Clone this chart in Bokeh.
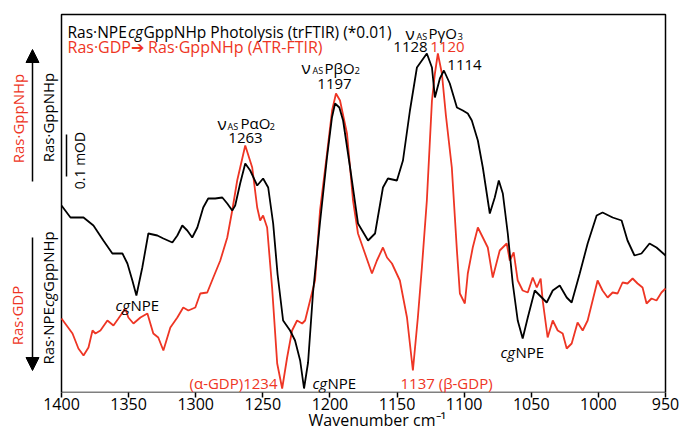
import math
from bokeh.plotting import figure
from bokeh.models import Range1d, Label, Arrow, NormalHead, FixedTicker, Title
from bokeh.embed import file_html
from bokeh.resources import INLINE

# ---------------- data ----------------
tick_values = [1400, 1350, 1300, 1250, 1200, 1150, 1100, 1050, 1000, 950]

# Ras·NPEcgGppNHp photolysis (trFTIR, *0.01) - black trace; heights in arbitrary units (42 = 0.1 mOD)
black_wn = [1400, 1393.3, 1383.6, 1376.2, 1368.8, 1362.1, 1354.6, 1350.9, 1347.2, 1344.2,
            1339.8, 1335.3, 1328.6, 1324.1, 1317.4, 1313.7, 1310.0, 1306.3, 1302.6, 1298.8,
            1294.4, 1290.7, 1285.5, 1280.2, 1276.5, 1272.8, 1270.6, 1266.9, 1263.1, 1259.4,
            1254.2, 1249.8, 1246.0, 1242.3, 1239.0, 1234.9, 1229.7, 1226.0, 1222.2, 1219.3,
            1216.3, 1212.6, 1207.4, 1202.2, 1198.5, 1196.2, 1193.0, 1190.2, 1185.0, 1179.1,
            1171.6, 1166.4, 1160.5, 1156.8, 1150.1, 1145.6, 1140.4, 1135.2, 1127.8, 1124.0,
            1121.8, 1118.1, 1115.1, 1110.7, 1105.4, 1101.0, 1097.3, 1094.3, 1089.8, 1086.1,
            1080.9, 1077.2, 1074.2, 1071.2, 1067.5, 1063.8, 1060.1, 1056.4, 1052.6, 1047.4,
            1042.2, 1038.5, 1034.0, 1028.8, 1023.6, 1019.9, 1013.9, 1008.0, 1001.3, 996.9,
            989.4, 982.7, 978.3, 973.1, 967.9, 961.9, 956.7, 950]
black_dA = [187, 175, 175, 167, 152, 139, 139, 129, 112, 97,
            125, 159, 157, 154, 150, 157, 167, 162, 155, 165,
            185, 194, 194, 195, 189, 182, 187, 209, 229, 222,
            207, 214, 205, 169, 118, 72, 62, 52, 32, 4,
            30, 100, 170, 235, 275, 289, 285, 272, 225, 169,
            152, 159, 205, 214, 212, 232, 282, 325, 339, 325,
            295, 314, 322, 309, 285, 282, 279, 272, 252, 225,
            179, 195, 212, 199, 159, 109, 72, 54, 75, 102,
            95, 90, 102, 107, 95, 90, 119, 149, 177, 180,
            175, 172, 152, 137, 139, 149, 145, 137]

# Ras·GDP -> Ras·GppNHp (ATR-FTIR) - red trace
red_wn = [1400, 1391.8, 1387.4, 1383.6, 1379.9, 1376.9, 1374.7, 1371.0, 1365.8, 1361.3,
          1357.6, 1352.4, 1350.2, 1346.4, 1341.2, 1336.0, 1331.6, 1327.9, 1324.1, 1318.9,
          1313.7, 1309.3, 1305.5, 1300.3, 1296.6, 1291.4, 1286.9, 1281.7, 1276.5, 1272.8,
          1269.1, 1263.1, 1257.9, 1254.2, 1252.0, 1249.8, 1246.8, 1243.1, 1239.3, 1235.6,
          1231.9, 1228.2, 1224.5, 1220.7, 1218.5, 1214.8, 1211.1, 1207.4, 1202.2, 1198.4,
          1195.5, 1192.5, 1187.3, 1182.8, 1179.1, 1173.9, 1168.7, 1165.0, 1160.5, 1157.5,
          1153.8, 1147.9, 1142.6, 1138.2, 1134.5, 1131.5, 1127.8, 1124.0, 1121.8, 1119.6,
          1116.6, 1113.6, 1109.2, 1105.4, 1103.2, 1099.5, 1097.3, 1093.6, 1089.8, 1086.1,
          1082.4, 1078.7, 1073.5, 1068.3, 1066.0, 1063.1, 1060.1, 1056.4, 1052.6, 1048.9,
          1045.9, 1043.0, 1041.5, 1037.8, 1034.0, 1030.3, 1026.6, 1023.6, 1019.9, 1015.5,
          1011.7, 1008.0, 1004.3, 1000.6, 996.9, 993.1, 989.4, 985.7, 982.0, 978.3,
          974.5, 970.8, 967.1, 964.1, 960.4, 956.7, 953.0, 950]
red_dA = [74, 59, 44, 37, 45, 62, 59, 62, 72, 67,
          74, 84, 75, 69, 75, 79, 59, 55, 42, 65,
          75, 85, 82, 85, 99, 100, 115, 132, 155, 182,
          212, 247, 225, 185, 172, 177, 165, 105, 29, 4,
          35, 62, 72, 69, 72, 92, 112, 182, 239, 282,
          299, 292, 259, 192, 159, 139, 119, 132, 145, 135,
          129, 112, 75, 22, 75, 125, 192, 292, 319, 339,
          319, 277, 225, 142, 99, 89, 119, 145, 165, 155,
          145, 115, 142, 149, 132, 140, 112, 102, 100, 115,
          105, 114, 92, 55, 72, 62, 59, 44, 49, 70,
          62, 72, 92, 112, 102, 95, 100, 99, 110, 109,
          114, 109, 105, 89, 94, 92, 100, 104]

# ---------------- styling ----------------
FONT = "Open Sans"
RED = "#EE3524"
BLACK = "#000000"

# plot box in window pixels: left 61, right 665, top 14, bottom 392
def X(px):
    return 1400 - (px - 61) * 450 / 604

def Y(py):
    return 392 - py

p = figure(width=679, height=431, output_backend="svg", toolbar_location=None,
           x_range=Range1d(X(0), X(679)), y_range=Range1d(Y(392), Y(0)),
           min_border_left=0, min_border_right=0, min_border_top=0, min_border_bottom=39)
p.yaxis.visible = False
p.grid.visible = False
p.outline_line_color = None
p.background_fill_color = "white"
p.border_fill_color = "white"

ax = p.xaxis[0]
ax.ticker = FixedTicker(ticks=tick_values)
ax.axis_line_color = None
ax.major_tick_line_width = 1.5
ax.major_tick_out = 5
ax.major_tick_in = 0
ax.minor_tick_out = 0
ax.minor_tick_in = 0
ax.major_label_standoff = 0
ax.major_label_text_font = FONT
ax.major_label_text_font_size = "16px"
ax.major_label_text_color = BLACK

xt = Title(text="Wavenumber cm\u207b\u00b9", align="left", offset=308, standoff=-12,
           text_font=FONT, text_font_size="16px", text_font_style="normal",
           text_color=BLACK)
p.add_layout(xt, "below")

# plot box
p.quad(left=[tick_values[0]], right=[tick_values[-1]], bottom=[0], top=[Y(14)],
       fill_color=None, line_color=BLACK, line_width=1.5)

# traces
p.line(red_wn, red_dA, line_color=RED, line_width=1.8)
p.line(black_wn, black_dA, line_color=BLACK, line_width=1.8)

def lab(px, py, text, color=BLACK, size="15px", align="left", baseline="middle",
        style="normal", angle=0.0):
    p.add_layout(Label(x=X(px), y=Y(py), text=text, text_color=color, text_font=FONT,
                       text_font_size=size, text_align=align, text_baseline=baseline,
                       text_font_style=style, angle=angle))

# scale bar 0.1 mOD (= 42 units)
p.segment(x0=[X(66)], y0=[Y(176)], x1=[X(66)], y1=[Y(134)], line_color=BLACK, line_width=1.5)
lab(79, 160, "0.1 mOD", size="14px", align="center", angle=math.pi / 2)

# legend-like headers
lab(67, 31.5, "Ras·NPE", size="15.5px", baseline="alphabetic")
lab(127.5, 31.5, "cg", size="15.5px", baseline="alphabetic", style="italic")
lab(143, 31.5, "GppNHp Photolysis (trFTIR) (*0.01)", size="15.5px", baseline="alphabetic")
lab(67, 46.5, "Ras·GDP\u2794 Ras·GppNHp (ATR-FTIR)", color=RED, size="16px", baseline="alphabetic")

# band assignments
def nu_label(x_nu, x_as, x_main, x_sub, base, main, sub):
    lab(x_nu, base, "ν", size="17px", baseline="alphabetic")
    lab(x_as, base + 3, "AS", size="9px", baseline="alphabetic")
    lab(x_main, base, main, size="15px", baseline="alphabetic")
    lab(x_sub, base + 3, sub, size="9.5px", baseline="alphabetic")

nu_label(217, 227, 240, 269, 122.5, "PαO", "2")
lab(245, 137, "1263", align="center")
nu_label(301, 312, 324, 354, 67, "PβO", "2")
lab(334, 83, "1197", align="center")
nu_label(405, 416, 428, 457, 32.5, "PγO", "3")
lab(410, 46, "1128", align="center")
lab(447, 46, "1120", color=RED, align="center")
lab(464, 64, "1114", align="center")

# cgNPE and GDP labels
def cgnpe(px, py):
    lab(px, py, "cg", style="italic")
    lab(px + 15, py, "NPE")

cgnpe(115, 304)
cgnpe(312, 382)
cgnpe(500, 351)
lab(277, 382, "(α-GDP)1234", color=RED, align="right")
lab(400, 382, "1137 (β-GDP)", color=RED)

# left side: direction arrows and state labels
head_up = NormalHead(size=13, fill_color=BLACK, line_color=BLACK)
head_dn = NormalHead(size=13, fill_color=BLACK, line_color=BLACK)
p.add_layout(Arrow(end=head_up, x_start=X(32), y_start=Y(181), x_end=X(32), y_end=Y(49),
                   line_color=BLACK, line_width=1.5))
p.add_layout(Arrow(end=head_dn, x_start=X(32), y_start=Y(237), x_end=X(32), y_end=Y(370),
                   line_color=BLACK, line_width=1.5))
lab(17, 118, "Ras·GppNHp", color=RED, align="center", angle=math.pi / 2)
lab(47, 117, "Ras·GppNHp", align="center", angle=math.pi / 2)
lab(16, 315, "Ras·GDP", color=RED, align="center", angle=math.pi / 2)
lab(47, 364, "Ras·NPE", angle=math.pi / 2)
lab(47, 306.5, "cg", style="italic", angle=math.pi / 2)
lab(47, 291.5, "GppNHp", angle=math.pi / 2)

open("out.html", "w").write(file_html(p, INLINE))
